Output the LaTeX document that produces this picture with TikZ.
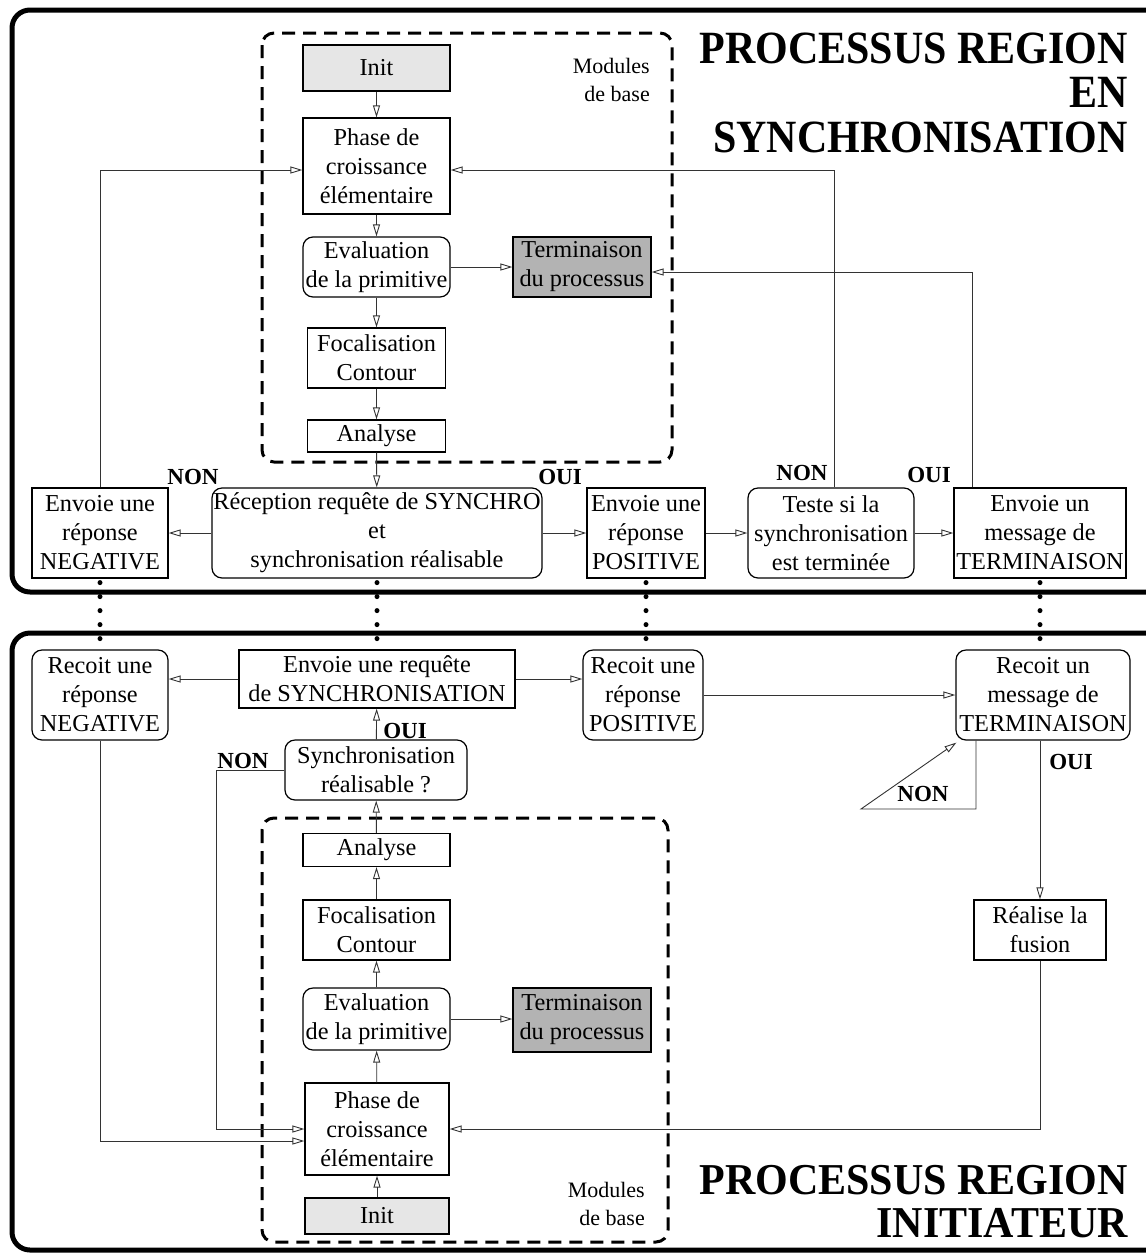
\documentclass[tikz,border=0pt]{standalone}
\usepackage{fontspec}
\usepackage{graphicx}
\setmainfont{Liberation Serif}
\usetikzlibrary{arrows.meta}
\definecolor{initgray}{HTML}{E6E6E6}
\definecolor{termgray}{HTML}{B3B3B3}
\tikzset{
  box/.style={draw=black, line width=1.2pt, align=center, inner sep=0pt, font=\fontsize{24.3}{29}\selectfont},
  rbox/.style={box, rounded corners=10pt},
  lbl/.style={font=\fontsize{23}{26}\selectfont\bfseries, inner sep=0pt},
  modtxt/.style={font=\fontsize{22}{28}\selectfont, align=right, inner sep=0pt},
  ttl/.style={font=\fontsize{42}{50}\selectfont\bfseries, inner sep=0pt, anchor=base east},
  conn/.style={draw=black!80, line width=0.9pt, -{Triangle[open,length=12pt,width=7pt]}},
  dotl/.style={line width=5pt, line cap=round, dash pattern=on 0pt off 14pt},
  frame/.style={line width=5pt, rounded corners=18pt},
  dbox/.style={line width=3pt, dash pattern=on 13pt off 8pt, rounded corners=12pt}
}
\begin{document}
\begin{tikzpicture}[x=1pt,y=-1pt]
\useasboundingbox (0,0) rectangle (1146,1254);
\clip (0,0) rectangle (1146,1254);
% frames
\draw[frame] (12,10) rectangle (1170,592);
\draw[frame] (12,633) rectangle (1170,1250);
\draw[dbox] (262,33) rectangle (672,462);
\draw[dbox] (262,818) rectangle (668,1242);

% titles
\node[ttl] (ta) at (1128,63) {\scalebox{1}[1.1]{PROCESSUS REGION}};
\node[ttl] (tb) at (1128,107) {\scalebox{1}[1.1]{EN}};
\node[ttl] (tc) at (1128,152) {\scalebox{1}[1.1]{SYNCHRONISATION}};
\node[ttl] (td) at (1128,1194) {\scalebox{1}[1.05]{PROCESSUS REGION}};
\node[ttl] (te) at (1128,1237) {\scalebox{1}[1.05]{INITIATEUR}};

\node[modtxt, anchor=north east] (modT) at (650,58) {Modules\\de base};
\node[modtxt, anchor=north east] (modB) at (645,1182) {Modules\\de base};

% ---------- top process ----------
\node[box, fill=initgray, minimum width=147pt, minimum height=46pt] (initT) at (376.5,68) {Init};
\node[box, minimum width=147pt, minimum height=96pt] (phaseT) at (376.5,166) {Phase de\\croissance\\élémentaire};
\node[rbox, minimum width=147pt, minimum height=60pt] (evalT) at (376.5,267) {Evaluation\\de la primitive};
\node[box, fill=termgray, minimum width=138pt, minimum height=60pt] (termP) at (582,267) {Terminaison\\du processus};
\node[box, minimum width=138pt, minimum height=60pt] (focT) at (376.5,358) {Focalisation\\Contour};
\node[box, minimum width=138pt, minimum height=32pt] (anaT) at (376.5,436) {Analyse};

\node[box, minimum width=136pt, minimum height=90pt] (negT) at (100,533) {Envoie une\\réponse\\NEGATIVE};
\node[rbox, minimum width=330pt, minimum height=90pt] (recep) at (377,533) {Réception requête de SYNCHRO\\et\\synchronisation réalisable};
\node[box, minimum width=118pt, minimum height=90pt] (posT) at (646,533) {Envoie une\\réponse\\POSITIVE};
\node[rbox, minimum width=166pt, minimum height=90pt] (teste) at (831,533) {Teste si la\\synchronisation\\est terminée};
\node[box, minimum width=172pt, minimum height=90pt] (termT) at (1040,533) {Envoie un\\message de\\TERMINAISON};

\node[lbl] (nonA) at (193,477) {NON};
\node[lbl] (ouiA) at (560,477) {OUI};
\node[lbl] (nonB) at (802,473) {NON};
\node[lbl] (ouiB) at (929,475) {OUI};

\draw[conn] (initT) -- (phaseT);
\draw[conn] (phaseT) -- (evalT);
\draw[conn] (evalT) -- (focT);
\draw[conn] (focT) -- (anaT);
\draw[conn] (anaT) -- (recep);
\draw[conn] (evalT.east) -- (evalT.east -| termP.west);
\draw[conn] (recep.west) -- (recep.west -| negT.east);
\draw[conn] (recep.east) -- (recep.east -| posT.west);
\draw[conn] (posT.east) -- (posT.east -| teste.west);
\draw[conn] (teste.east) -- (teste.east -| termT.west);
\draw[conn] (negT.north) |- ([yshift=-4pt]phaseT.west);
\draw[conn] ([xshift=3pt]teste.north) |- ([yshift=-4pt]phaseT.east);
\draw[conn] ([xshift=-68pt]termT.north) |- ([yshift=-5pt]termP.east);

% ---------- bottom process ----------
\node[rbox, minimum width=136pt, minimum height=90pt] (negB) at (100,695) {Recoit une\\réponse\\NEGATIVE};
\node[box, minimum width=276pt, minimum height=58pt] (reqB) at (377,679) {Envoie une requête\\de SYNCHRONISATION};
\node[rbox, minimum width=120pt, minimum height=90pt] (posB) at (643,695) {Recoit une\\réponse\\POSITIVE};
\node[rbox, minimum width=174pt, minimum height=90pt] (termB) at (1043,695) {Recoit un\\message de\\TERMINAISON};
\node[rbox, minimum width=182pt, minimum height=60pt] (sync) at (376,770) {Synchronisation\\réalisable ?};

\node[box, minimum width=147pt, minimum height=33pt] (anaB) at (376.5,850) {Analyse};
\node[box, minimum width=147pt, minimum height=60pt] (focB) at (376.5,930) {Focalisation\\Contour};
\node[rbox, minimum width=147pt, minimum height=62pt] (evalB) at (376.5,1019) {Evaluation\\de la primitive};
\node[box, fill=termgray, minimum width=138pt, minimum height=64pt] (termQ) at (582,1020) {Terminaison\\du processus};
\node[box, minimum width=144pt, minimum height=92pt] (phaseB) at (377,1129) {Phase de\\croissance\\élémentaire};
\node[box, fill=initgray, minimum width=144pt, minimum height=36pt] (initB) at (377,1216) {Init};
\node[box, minimum width=132pt, minimum height=60pt] (fusion) at (1040,930) {Réalise la\\fusion};

\node[lbl] (ouiC) at (405,731) {OUI};
\node[lbl] (nonC) at (243,761) {NON};
\node[lbl] (nonD) at (923,794) {NON};
\node[lbl] (ouiD) at (1071,762) {OUI};

\draw[conn] (reqB.west) -- (reqB.west -| negB.east);
\draw[conn] (reqB.east) -- (reqB.east -| posB.west);
\draw[conn] (posB.east) -- (posB.east -| termB.west);
\draw[conn] (sync) -- (reqB);
\draw[conn] (anaB) -- (sync);
\draw[conn] (focB) -- (anaB);
\draw[conn] (evalB) -- (focB);
\draw[conn] (phaseB) -- (evalB);
\draw[conn] (initB) -- (phaseB);
\draw[conn] (evalB.east) -- (evalB.east -| termQ.west);
\draw[conn] (negB.south) |- ([yshift=-12pt]phaseB.west);
\draw[conn] (sync.west) -| ([xshift=-88pt]phaseB.west) -- (phaseB.west);
\draw[conn] (fusion.south) |- (phaseB.east);
\draw[conn] ([xshift=-3pt]termB.south) -- (fusion.north);
\coordinate (loopA) at (976,809);
\coordinate (loopB) at (861,809);
\draw[conn] ([xshift=-67pt]termB.south) -- (loopA) -- (loopB) -- ([shift={(1pt,-2pt)}]termB.south west);

% dotted links
\draw[dotl] ([yshift=-4pt]negT.south) -- ([yshift=2pt]negB.north);
\draw[dotl] ([yshift=-4pt]recep.south) -- ([yshift=2pt]reqB.north);
\draw[dotl] ([yshift=-4pt]posT.south) -- ([yshift=2pt]posT.south |- posB.north);
\draw[dotl] ([yshift=-4pt]termT.south) -- ([yshift=2pt]termT.south |- termB.north);
\end{tikzpicture}
\end{document}
